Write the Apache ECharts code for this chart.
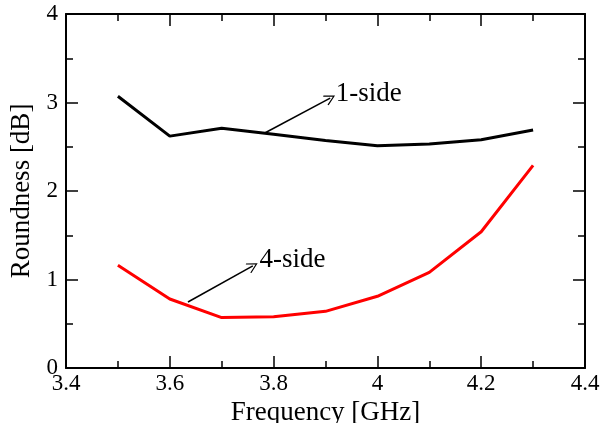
<!DOCTYPE html>
<html>
<head>
<meta charset="utf-8">
<script src="https://cdn.jsdelivr.net/npm/echarts@6/dist/echarts.min.js"></script>
<style>
  html, body { margin: 0; padding: 0; background: #fff; }
  #chart { width: 601px; height: 423px; }
</style>
</head>
<body>
<div id="chart"></div>
<script>
var freq = [3.5, 3.6, 3.7, 3.8, 3.9, 4.0, 4.1, 4.2, 4.3];
var oneSide = [3.07, 2.62, 2.71, 2.64, 2.57, 2.51, 2.53, 2.58, 2.69];
var fourSide = [1.16, 0.78, 0.57, 0.58, 0.64, 0.81, 1.08, 1.54, 2.29];
// annotation arrows [start, end] in data units
var arrow1 = [[3.783, 2.655], [3.909, 3.05]];
var arrow4 = [[3.635, 0.746], [3.760, 1.153]];

var font = "'Liberation Serif', 'Times New Roman', serif";

function pairs(xs, ys) {
    var out = [];
    for (var i = 0; i < xs.length; i++) out.push([xs[i], ys[i]]);
    return out;
}

var chart = echarts.init(document.getElementById('chart'));

var baseAxis = {
    axisLine: {show: true, onZero: false, lineStyle: {color: '#000', width: 2}},
    axisTick: {show: true, inside: true, length: 12, lineStyle: {color: '#000', width: 1.5}},
    minorTick: {show: true, splitNumber: 2, length: 7, lineStyle: {color: '#000', width: 1.5}},
    splitLine: {show: false}
};

// open arrow head, tip at top
var arrowHead = 'path://M0,0 L6,10 L5,10.8 L0,2.4 L-5,10.8 L-6,10 Z';

var option = {
    animation: false,
    grid: {left: 66, right: 16, top: 14, bottom: 55, outerBoundsMode: 'none', containLabel: false},
    xAxis: [
        Object.assign({}, baseAxis, {
            type: 'value', min: 3.4, max: 4.4, interval: 0.2,
            name: 'Frequency [GHz]', nameLocation: 'middle', nameGap: 29,
            nameTextStyle: {fontFamily: font, fontSize: 27, color: '#000'},
            axisLabel: {fontFamily: font, fontSize: 23, color: '#000', margin: 4}
        }),
        Object.assign({}, baseAxis, {
            type: 'value', min: 3.4, max: 4.4, interval: 0.2, position: 'top',
            axisLabel: {show: false}
        })
    ],
    yAxis: [
        Object.assign({}, baseAxis, {
            type: 'value', min: 0, max: 4, interval: 1,
            name: 'Roundness [dB]', nameLocation: 'middle', nameGap: 28,
            nameTextStyle: {fontFamily: font, fontSize: 27, color: '#000'},
            axisLabel: {fontFamily: font, fontSize: 23, color: '#000', margin: 8}
        }),
        Object.assign({}, baseAxis, {
            type: 'value', min: 0, max: 4, interval: 1, position: 'right',
            axisLabel: {show: false}
        })
    ],
    series: [
        {
            name: '1-side', type: 'line', data: pairs(freq, oneSide),
            symbol: 'none', lineStyle: {color: '#000', width: 3},
            markLine: {
                silent: true, symbol: ['none', arrowHead], symbolSize: 11,
                lineStyle: {color: '#000', width: 1.5, type: 'solid'},
                label: {show: false},
                data: [[{coord: arrow1[0]}, {coord: arrow1[1]}]]
            },
            markPoint: {
                symbol: 'circle', symbolSize: 0,
                label: {show: true, formatter: '1-side', fontFamily: font, fontSize: 27, color: '#000', position: 'right'},
                data: [{coord: [3.91, 3.10]}]
            }
        },
        {
            name: '4-side', type: 'line', data: pairs(freq, fourSide),
            symbol: 'none', lineStyle: {color: '#ff0000', width: 3},
            markLine: {
                silent: true, symbol: ['none', arrowHead], symbolSize: 11,
                lineStyle: {color: '#000', width: 1.5, type: 'solid'},
                label: {show: false},
                data: [[{coord: arrow4[0]}, {coord: arrow4[1]}]]
            },
            markPoint: {
                symbol: 'circle', symbolSize: 0,
                label: {show: true, formatter: '4-side', fontFamily: font, fontSize: 27, color: '#000', position: 'right'},
                data: [{coord: [3.763, 1.22]}]
            }
        }
    ]
};
chart.setOption(option);
</script>
</body>
</html>
